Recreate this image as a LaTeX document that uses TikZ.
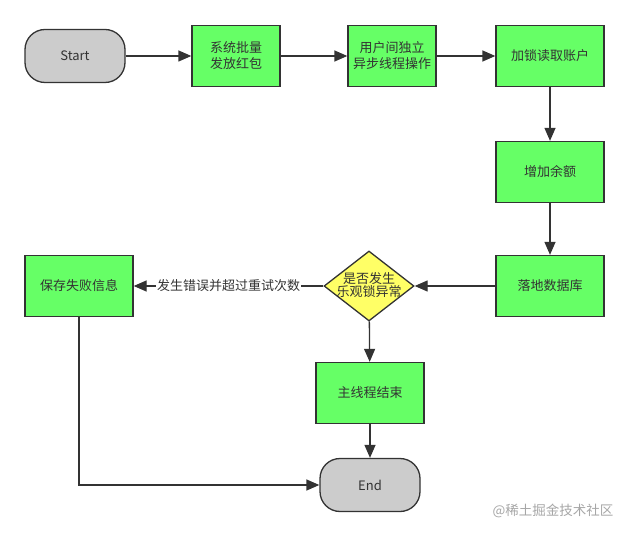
\documentclass[tikz,border=0pt]{standalone}
\usepackage{fontspec}
\setmainfont{Liberation Sans}
\newfontfamily\cjk{Noto Sans CJK SC}
\usetikzlibrary{shapes.geometric,arrows.meta}
\definecolor{boxgreen}{HTML}{66FF66}
\definecolor{boxgray}{HTML}{CCCCCC}
\definecolor{boxyellow}{HTML}{FFFF66}
\definecolor{edgecol}{HTML}{333333}
\begin{document}
\begin{tikzpicture}[x=1pt,y=-1pt,
  every node/.style={font=\cjk\fontsize{13}{16}\selectfont, text=edgecol},
  proc/.style={draw=edgecol, line width=1.3pt, fill=boxgreen, minimum width=108pt, minimum height=61pt, align=center, inner sep=0pt},
  term/.style={draw=edgecol, line width=1.3pt, fill=boxgray, rounded corners=20pt, minimum width=100pt, minimum height=53pt, inner sep=0pt},
  dec/.style={draw=edgecol, line width=1.3pt, fill=boxyellow, diamond, minimum width=90pt, minimum height=70pt, inner sep=0pt},
  conn/.style={draw=edgecol, line width=1.3pt, -{Triangle[length=13pt,width=11pt]}}]
\useasboundingbox (0,0) rectangle (628,534);
\node[term] (start) at (75,56) {Start};
\node[proc, minimum width=88pt] (p1) at (236,56) {系统批量\\发放红包};
\node[proc, minimum width=88pt] (p2) at (392,56) {用户间独立\\异步线程操作};
\node[proc] (p3) at (550,56) {加锁读取账户};
\node[proc] (p4) at (550,172) {增加余额};
\node[proc] (p5) at (550,286) {落地数据库};
\node[dec] (d) at (369,286) {\makebox[0pt]{\smash{\raisebox{-0.5ex}{\begin{tabular}[c]{@{}c@{}}是否发生\\[-3pt]乐观锁异常\end{tabular}}}}};
\node[proc] (fail) at (79,286) {保存失败信息};
\node[proc] (mainend) at (370,393) {主线程结束};
\node[term] (end) at (370,485) {End};
\coordinate (corner) at (fail.south |- end.west);
\draw[conn] (start) -- (p1);
\draw[conn] (p1) -- (p2);
\draw[conn] (p2) -- (p3);
\draw[conn] (p3) -- (p4);
\draw[conn] (p4) -- (p5);
\draw[conn] (p5) -- (d);
\draw[conn] (d) -- node[fill=white, inner sep=1pt] (lbl) {发生错误并超过重试次数} (fail);
\draw[conn] (d) -- (mainend);
\draw[conn] (mainend) -- (end);
\draw[conn] (fail.south) -- (corner) -- (end.west);
\node[text=black!35, font=\cjk\fontsize{13.5}{16}\selectfont] (wm) at (553,511) {@稀土掘金技术社区};
\end{tikzpicture}
\end{document}
